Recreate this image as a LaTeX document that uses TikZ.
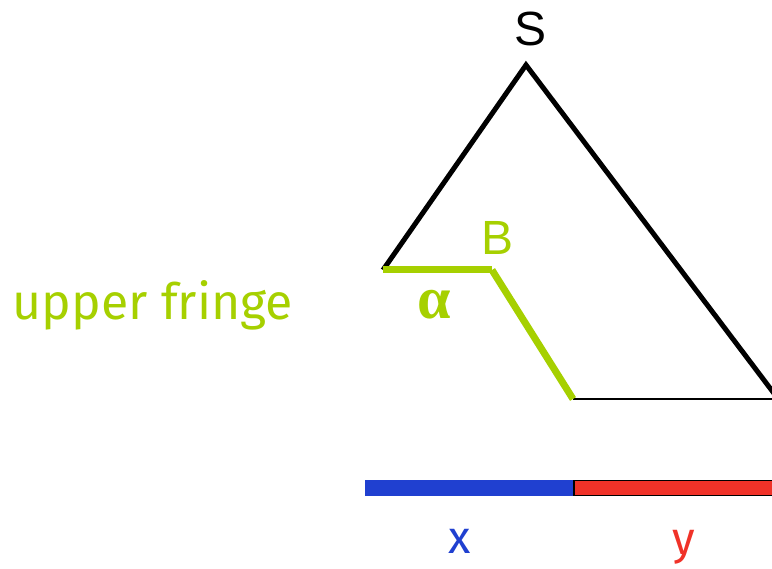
\documentclass[tikz,border=0pt]{standalone}
\usepackage{fontspec}
\setmainfont{Liberation Sans}
\newfontfamily\alphafont{Liberation Serif}
\newfontfamily\handfont{Fira Sans}
\definecolor{fringegreen}{RGB}{166,208,0}
\definecolor{xblue}{RGB}{32,64,208}
\definecolor{yred}{RGB}{240,50,40}
\tikzset{
  edge/.style={line width=5pt, black},
  fringe/.style={line width=7pt, fringegreen},
  thin/.style={line width=2pt, black},
  lbl/.style={inner sep=0pt, anchor=center},
}
\begin{document}
\begin{tikzpicture}[x=1pt,y=-1pt]
\useasboundingbox (0,0) rectangle (772,569);
\clip (0,0) rectangle (772,569);
\coordinate (top) at (526,65);
\coordinate (L) at (383,270);
\coordinate (R) at (779,400);
\coordinate (Bc) at (492,270);
\coordinate (G) at (573,399);
\coordinate (Rend) at (780,399);
\draw[edge] (L) -- (top) -- (R);
\draw[thin] (G) -- (Rend);
\draw[fringe, line cap=butt] (L) -- (Bc);
\draw[fringe, line cap=butt] (Bc) -- (G);
\fill[xblue] (365,480) rectangle (573,496);
\draw[line width=1.8pt, fill=yred] (574,480.5) rectangle (790,495.5);
\node[lbl, font=\fontsize{48}{52}\selectfont] (S) at (531,29) {S};
\node[lbl, font=\fontsize{48}{52}\selectfont, text=fringegreen] (B) at (498,238) {B};
\node[lbl, font=\alphafont\bfseries\fontsize{60}{64}\selectfont, text=fringegreen] (alpha) at (434,305) {α};
\node[lbl, font=\handfont\fontsize{50}{54}\selectfont, text=fringegreen] (uf) at (153,305) {upper fringe};
\node[lbl, font=\handfont\fontsize{46}{50}\selectfont, text=xblue] (xl) at (460,541) {x};
\node[lbl, font=\handfont\fontsize{46}{50}\selectfont, text=yred] (yl) at (684,547) {y};
\end{tikzpicture}
\end{document}
